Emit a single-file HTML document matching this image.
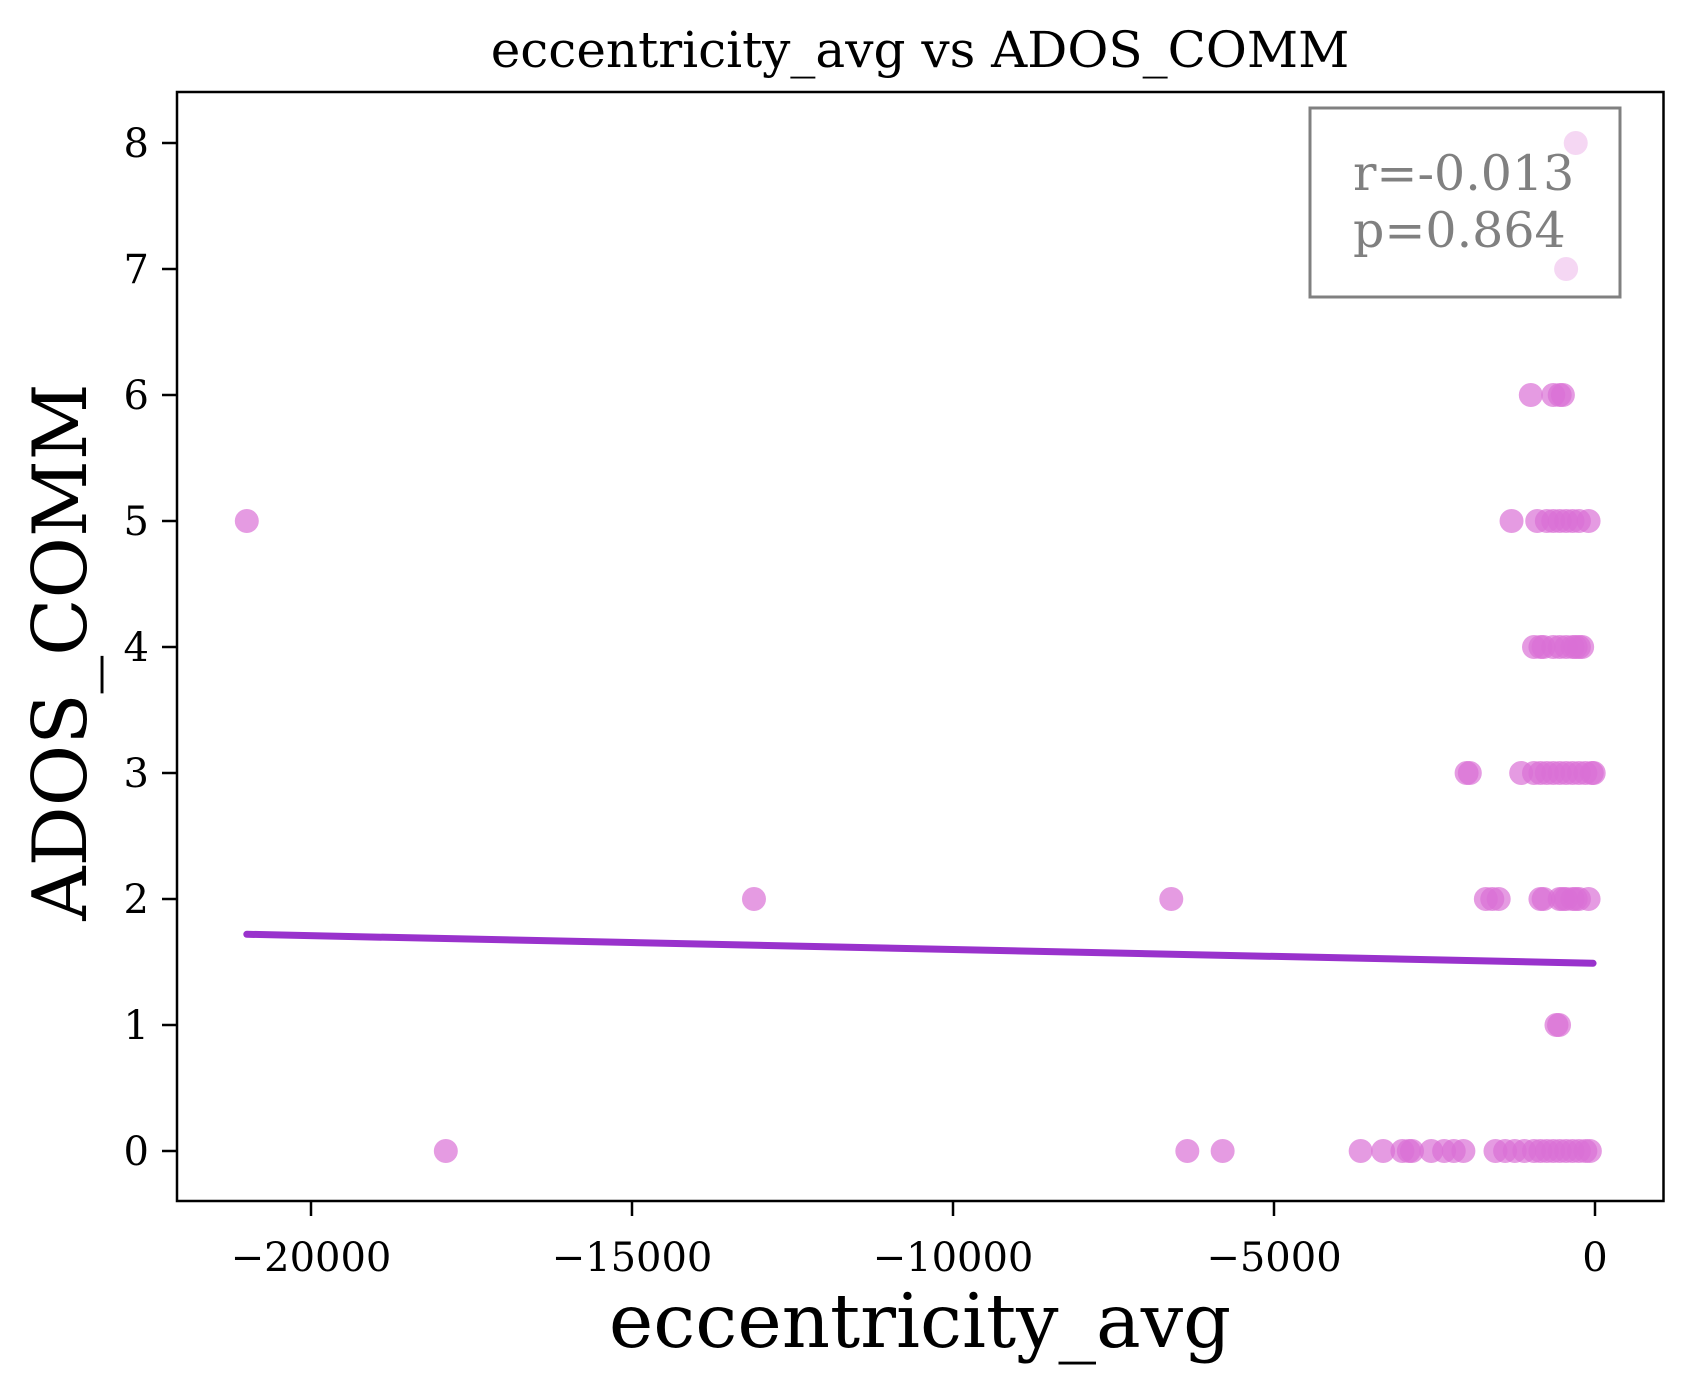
<!DOCTYPE html>
<html><head><meta charset="utf-8"><style>
html,body{margin:0;padding:0;background:#fff;}
svg{display:block;font-family:"DejaVu Serif","Liberation Serif",serif;}
</style></head><body>
<svg id="chart" width="1694" height="1392" viewBox="0 0 1694 1392">
<rect x="0" y="0" width="1694" height="1392" fill="#fff"/>
<g id="points"></g>
<g id="fit"></g>
<rect x="1310" y="108" width="310" height="189" fill="#fff" fill-opacity="0.6" stroke="#808080" stroke-width="3"/>
<text x="1353" y="190" font-size="49" fill="#808080">r=-0.013</text>
<text x="1353" y="247" font-size="49" fill="#808080">p=0.864</text>
<rect x="177" y="92" width="1486.5" height="1109" fill="none" stroke="#000" stroke-width="2.5"/>
<g id="xticks"></g>
<g id="yticks"></g>
<text x="920" y="67" font-size="50" text-anchor="middle">eccentricity_avg vs ADOS_COMM</text>
<text x="920" y="1347" font-size="75" text-anchor="middle">eccentricity_avg</text>
<text transform="translate(86,652) rotate(-90)" font-size="75" text-anchor="middle">ADOS_COMM</text>
</svg>
<script>
const xs0=[-17900,-6350,-5800,-3650,-3300,-3000,-2900,-2850,-2550,-2350,-2200,-2050,-1550,-1400,-1250,-1100,-950,-850,-750,-650,-550,-450,-350,-250,-150,-80];
const xs1=[-600,-560];
const xs2=[-13100,-6600,-1700,-1600,-1500,-850,-800,-550,-500,-450,-350,-300,-250,-100];
const xs3=[-2000,-1950,-1150,-950,-850,-750,-650,-550,-450,-350,-250,-150,-50,-20];
const xs4=[-950,-850,-800,-650,-550,-450,-350,-300,-250,-200];
const xs5=[-21000,-1300,-900,-750,-650,-550,-450,-350,-250,-100];
const xs6=[-1000,-650,-550,-500];
const xs7=[-450];
const xs8=[-300];
const fitX=[-21000,-30];
const fitY=[1.72,1.49];
const xTickVals=[-20000,-15000,-10000,-5000,0];
const xTickLabels=["\u221220000","\u221215000","\u221210000","\u22125000","0"];
const yTickVals=[0,1,2,3,4,5,6,7,8];
const NS="http://www.w3.org/2000/svg";
const sx=v=>1595+v*0.0642;
const sy=v=>1151-v*126;
const pts=document.getElementById('points');
[xs0,xs1,xs2,xs3,xs4,xs5,xs6,xs7,xs8].forEach((arr,yv)=>{
  arr.forEach(xv=>{
    const c=document.createElementNS(NS,'circle');
    c.setAttribute('cx',sx(xv));c.setAttribute('cy',sy(yv));c.setAttribute('r',12);
    c.setAttribute('fill','#DA70D6');c.setAttribute('fill-opacity','0.7');
    
    
    pts.appendChild(c);
  });
});
const fit=document.getElementById('fit');
const ln=document.createElementNS(NS,'line');
ln.setAttribute('x1',sx(fitX[0]));ln.setAttribute('y1',sy(fitY[0]));
ln.setAttribute('x2',sx(fitX[1]));ln.setAttribute('y2',sy(fitY[1]));
ln.setAttribute('stroke','#9932CC');ln.setAttribute('stroke-width','7');ln.setAttribute('stroke-linecap','round');


fit.appendChild(ln);
const xg=document.getElementById('xticks');
xTickVals.forEach((v,i)=>{
  const t=document.createElementNS(NS,'line');
  t.setAttribute('x1',sx(v));t.setAttribute('x2',sx(v));t.setAttribute('y1',1201);t.setAttribute('y2',1216);
  t.setAttribute('stroke','#000');t.setAttribute('stroke-width','2.5');
  
  
  xg.appendChild(t);
  const tx=document.createElementNS(NS,'text');
  tx.setAttribute('x',sx(v));tx.setAttribute('y',1271);tx.setAttribute('font-size','40');tx.setAttribute('text-anchor','middle');
  tx.textContent=xTickLabels[i];
  
  
  xg.appendChild(tx);
});
const yg=document.getElementById('yticks');
yTickVals.forEach(v=>{
  const t=document.createElementNS(NS,'line');
  t.setAttribute('x1',162);t.setAttribute('x2',177);t.setAttribute('y1',sy(v));t.setAttribute('y2',sy(v));
  t.setAttribute('stroke','#000');t.setAttribute('stroke-width','2.5');
  
  
  yg.appendChild(t);
  const tx=document.createElementNS(NS,'text');
  tx.setAttribute('x',149);tx.setAttribute('y',sy(v)+14);tx.setAttribute('font-size','40');tx.setAttribute('text-anchor','end');
  tx.textContent=String(v);
  
  
  yg.appendChild(tx);
});
</script>
</body></html>
